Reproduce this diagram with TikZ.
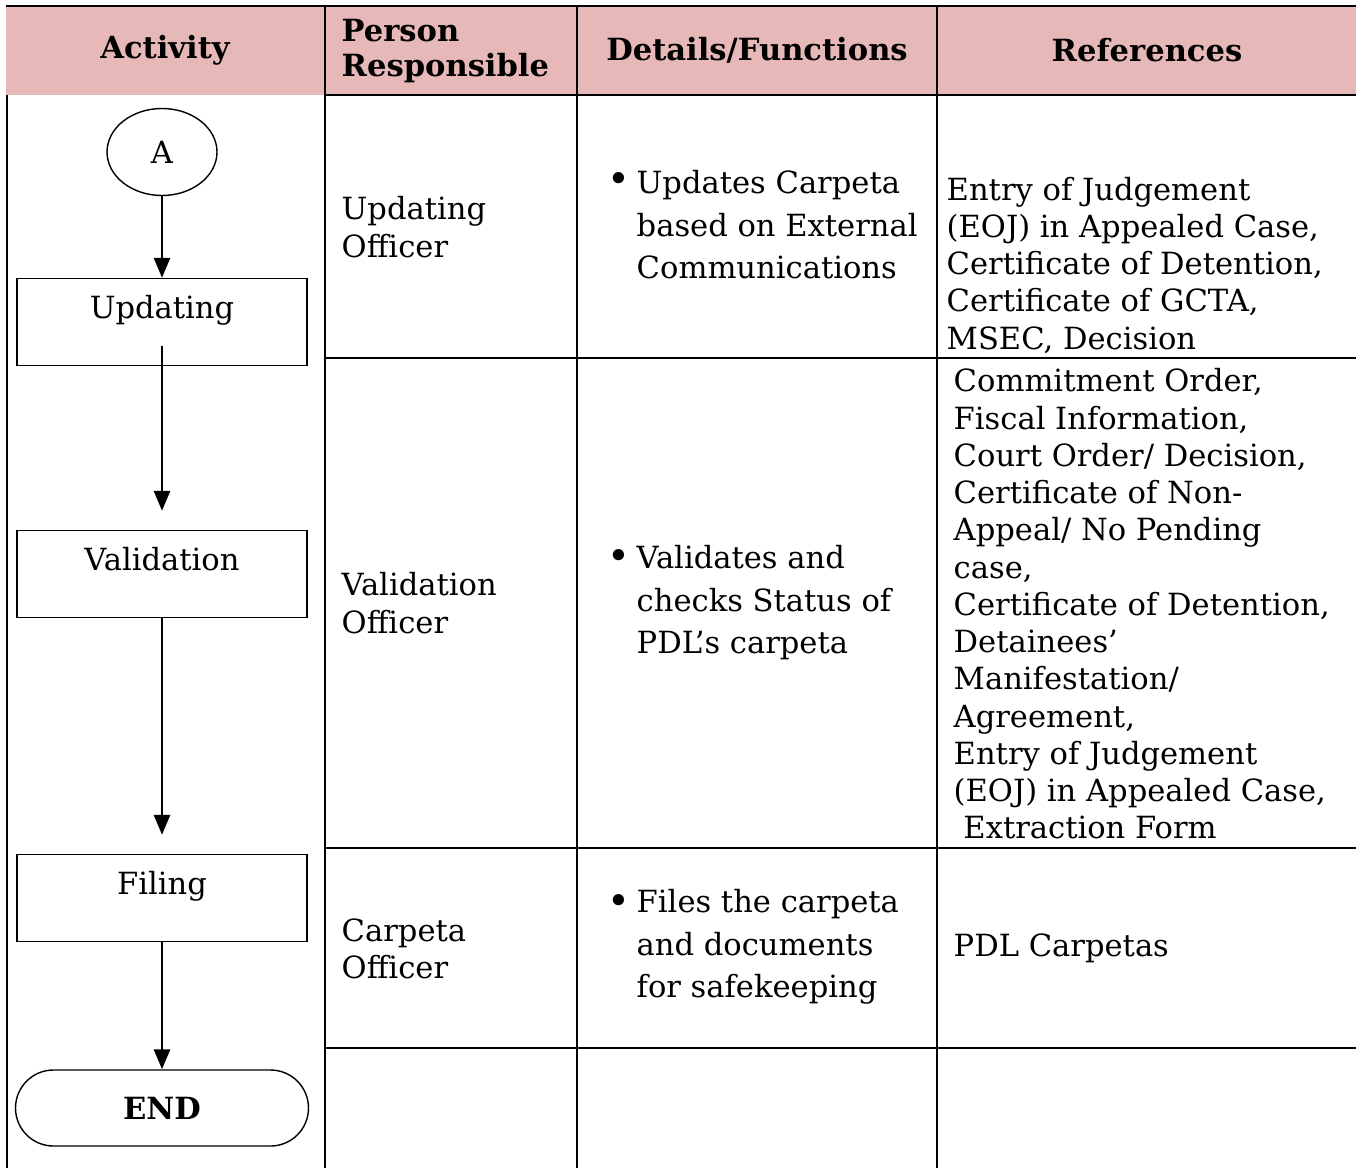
\documentclass[tikz,border=0pt]{standalone}
\usepackage{fontspec}
\setmainfont{DejaVu Serif}
\usetikzlibrary{arrows.meta,shapes.geometric}
\definecolor{headpink}{RGB}{230,184,183}

\begin{document}
\begin{tikzpicture}[
      x=0.1mm, y=-0.1mm,
      >={Triangle[length=2mm, width=1.6mm]},
      rule/.style={line width=0.75pt},
      flow/.style={->, line width=0.8pt},
      heading/.style={font=\fontsize{8.7}{9.9}\selectfont\bfseries, inner sep=0pt},
      cell/.style={font=\fontsize{8.7}{10.6}\selectfont, align=left, anchor=west, inner sep=0pt},
      bullet/.style={cell, font=\fontsize{8.7}{12.1}\selectfont},
      dotmark/.style={font=\fontsize{11}{12}\selectfont, inner sep=0pt},
      actbox/.style={draw, line width=0.4pt, minimum width=29mm, minimum height=8.7mm,
        text height=2.2mm, text depth=3mm, font=\fontsize{8.7}{10}\selectfont},
      startnode/.style={draw, ellipse, line width=0.4pt, minimum width=11mm,
        minimum height=8.7mm, inner sep=0pt, font=\fontsize{8.7}{10}\selectfont},
      endbox/.style={draw, line width=0.4pt, rounded corners=3.8mm, minimum width=29.3mm,
        minimum height=7.6mm, font=\fontsize{8.7}{10}\selectfont\bfseries}
    ]
    \useasboundingbox (0,0) rectangle (1356,1168);

    % Header
    \fill[headpink] (6,6) rectangle (1356,95);
    \node[heading] (hdact) at (165,50) {Activity};
    \node[heading, align=left, anchor=west] (hdperson) at (341,51) {Person\\Responsible};
    \node[heading] (hddetails) at (757,50) {Details/Functions};
    \node[heading] (hdrefs) at (1147,50) {References};

    % Grid
    \draw[rule] (6,6) -- (1356,6);
    \draw[rule] (7,95) -- (7,1168);
    \foreach \cx in {325,577,937}
      \draw[rule] (\cx,6) -- (\cx,1168);
    \foreach \ry in {95,358,848,1048}
      \draw[rule] (325,\ry) -- (1356,\ry);

    % Flow
    \node[startnode] (A) at (162,152) {A};
    \node[actbox] (upd) at (162,322) {Updating};
    \node[actbox] (val) at (162,574) {Validation};
    \node[actbox] (fil) at (162,898) {Filing};
    \node[endbox] (endn) at (162,1108) {END};
    \draw[flow] (A) -- (upd);
    \draw[flow, shorten <=-2mm, shorten >=1.9mm] (upd.south) -- (val.north);
    \draw[flow, shorten >=1.9mm] (val.south) -- (fil.north);
    \draw[flow] (fil.south) -- (endn.north);

    % Updating row
    \node[cell] (per1) at (341,227) {Updating\\Officer};
    \node[dotmark] (dot1) at (619,183) {\textbullet};
    \node[bullet] (det1) at (636,225) {Updates Carpeta\\based on External\\Communications};
    \node[cell] (ref1) at (946,265)
      {Entry of Judgement\\(EOJ) in Appealed Case,\\Certificate of Detention,\\
       Certificate of GCTA,\\MSEC, Decision};

    % Validation row
    \node[cell] (per2) at (341,603) {Validation\\Officer};
    \node[dotmark] (dot2) at (619,560) {\textbullet};
    \node[bullet] (det2) at (636,603) {Validates and\\checks Status of\\PDL’s carpeta};
    \node[cell] (ref2) at (953,604)
      {Commitment Order,\\Fiscal Information,\\Court Order/ Decision,\\
       Certificate of Non-\\Appeal/ No Pending\\case,\\Certificate of Detention,\\
       Detainees’\\Manifestation/\\Agreement,\\Entry of Judgement\\
       (EOJ) in Appealed Case,\\\ Extraction Form};

    % Filing row
    \node[cell] (per3) at (341,949) {Carpeta\\Officer};
    \node[dotmark] (dot3) at (619,905) {\textbullet};
    \node[bullet] (det3) at (636,947) {Files the carpeta\\and documents\\for safekeeping};
    \node[cell] (ref3) at (953,948) {PDL Carpetas};
  \end{tikzpicture}
\end{document}
